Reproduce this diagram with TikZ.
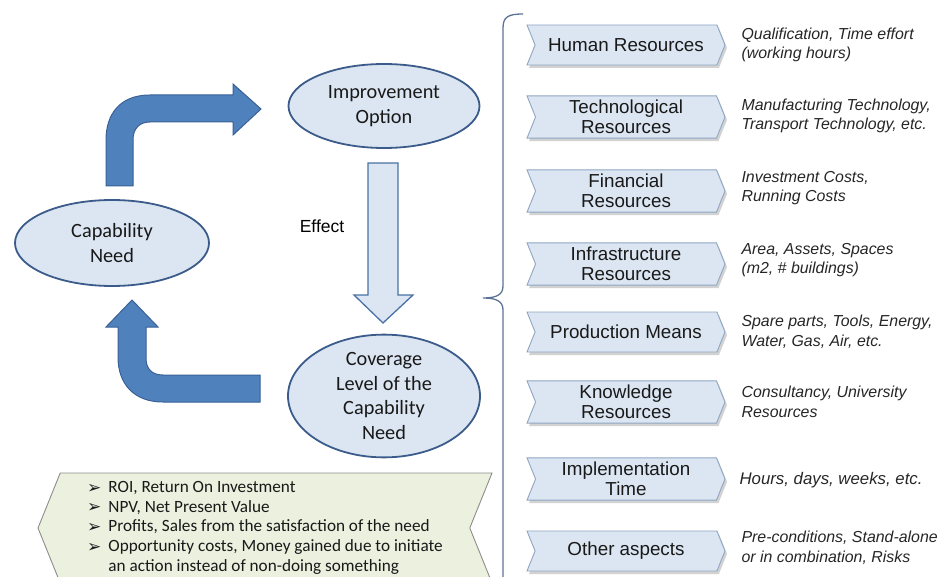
\documentclass[tikz,border=0pt]{standalone}
\usepackage{fontspec}
\setmainfont{Liberation Sans}
\newfontfamily\califont{Carlito}
\newfontfamily\symfont{DejaVu Sans}
\usetikzlibrary{shapes.geometric,shapes.symbols,shadows}
\definecolor{arrowblue}{HTML}{4F81BD}
\definecolor{arrowline}{HTML}{3A6196}
\definecolor{arrowmid}{HTML}{4A72A6}
\definecolor{paleblue}{HTML}{DCE6F2}
\definecolor{ovalline}{HTML}{3B5B8A}
\definecolor{tagline}{HTML}{8FA5C2}
\definecolor{palegreen}{HTML}{EBF0DF}
\definecolor{greenline}{HTML}{8C8C8C}
\definecolor{bracecol}{HTML}{5D7396}
\newcommand{\moneybullet}{{\symfont\fontsize{17}{13}\selectfont\raisebox{-0.5pt}{➢}}}

\begin{document}
\begin{tikzpicture}[x=1pt,y=-1pt,
  oval/.style={ellipse,draw=ovalline,line width=1.8pt,fill=paleblue,align=center,
    font=\califont\fontsize{20.3}{24.5}\selectfont,inner sep=0pt,text=black!90},
  tag/.style={signal,signal to=east,signal from=west,signal pointer angle=136,
    draw=tagline,line width=0.9pt,fill=paleblue,minimum width=198pt,minimum height=40pt,
    align=center,inner xsep=2pt,inner ysep=4pt,text=black!90,
    font=\fontsize{18.8}{20.5}\selectfont,
    drop shadow={shadow xshift=2pt,shadow yshift=-3pt,fill=black!35}},
  note/.style={anchor=west,align=left,font=\itshape\fontsize{15.9}{19.5}\selectfont,text=black!85},
  bigarrow/.style={fill=arrowblue,draw=arrowline,line width=1pt}]
    \useasboundingbox (0,0) rectangle (942,577);
    \clip (0,0) rectangle (942,577);
    % cycle on the left
    \node[oval,minimum width=191pt,minimum height=84pt] (improve) at (384,106) {Improvement\\Option};
    \node[oval,minimum width=194pt,minimum height=86pt] (need) at (112,243) {Capability\\Need};
    \node[oval,minimum width=192pt,minimum height=118pt] (cover) at (384,396) {Coverage\\Level of the\\Capability\\Need};
    \node[font=\fontsize{17.5}{19}\selectfont] (effect) at (322,226) {Effect};
    \draw[bigarrow](106,186)--(106,140) .. controls (106,114) and (120,95) .. (150,95)--(233,95)--(233,84)
        --(261,109)--(233,135)--(233,122)--(150,122) .. controls (140,122) and (133,128) .. (133,140)--(133,186)--cycle;
    \draw[bigarrow](260,375)--(163,375) .. controls (152,375) and (146,369) .. (146,358)--(146,327)--(158,327)
        --(132,300)--(106,327)--(118,327)--(118,357) .. controls (118,384) and (134,402) .. (163,402)--(260,402)--cycle;
    \draw[fill=paleblue,draw=arrowmid,line width=1.3pt](368,163)--(398,163)--(398,295)--(413,295)
        --(383,323)--(354,295)--(368,295)--cycle;
    % money box
    \node[signal,signal to=west,signal from=east,signal pointer angle=136,draw=greenline,line width=0.9pt,
        fill=palegreen,minimum width=454pt,minimum height=110pt,inner sep=0pt,
        font=\califont\fontsize{17.2}{19.6}\selectfont,text=black!90] (money) at (265,528)
        {\begin{tabular}{@{}l@{\hspace{7pt}}l@{}}
          \moneybullet & ROI, Return On Investment\\
          \moneybullet & NPV, Net Present Value\\
          \moneybullet & Profits, Sales from the satisfaction of the need\\
          \moneybullet & Opportunity costs, Money gained due to initiate\\
           & an action instead of non-doing something
        \end{tabular}};
    % brace
    \draw[bracecol,line width=1.3pt](523,14) .. controls (508,14) and (503,17) .. (503,28)--(503,286)
        .. controls (503,295) and (496,298) .. (483,298) .. controls (496,298) and (503,301) .. (503,310)--(503,590);
    % resources
    \node[tag] (human) at (626,45) {Human Resources};
    \node[tag] (techno) at (626,117) {Technological\\Resources};
    \node[tag] (finance) at (626,191) {Financial\\Resources};
    \node[tag] (infra) at (626,264) {Infrastructure\\Resources};
    \node[tag] (prod) at (626,332) {Production Means};
    \node[tag] (know) at (626,402) {Knowledge\\Resources};
    \node[tag] (impl) at (626,479) {Implementation\\Time};
    \node[tag] (other) at (626,551) {Other aspects};
    \node[note] (humannote) at (738,45) {Qualification, Time effort\\(working hours)};
    \node[note] (technonote) at (738,116) {Manufacturing Technology,\\Transport Technology, etc.};
    \node[note] (financenote) at (738,188) {Investment Costs,\\Running Costs};
    \node[note] (infranote) at (738,260) {Area, Assets, Spaces\\(m2, \# buildings)};
    \node[note] (prodnote) at (738,332) {Spare parts, Tools, Energy,\\Water, Gas, Air, etc.};
    \node[note] (knownote) at (738,402) {Consultancy, University\\Resources};
    \node[note,font=\itshape\fontsize{16.8}{19.5}\selectfont] (implnote) at (736,480) {Hours, days, weeks, etc.};
    \node[note] (othernote) at (738,548) {Pre-conditions, Stand-alone\\or in combination, Risks};
\end{tikzpicture}
\end{document}
